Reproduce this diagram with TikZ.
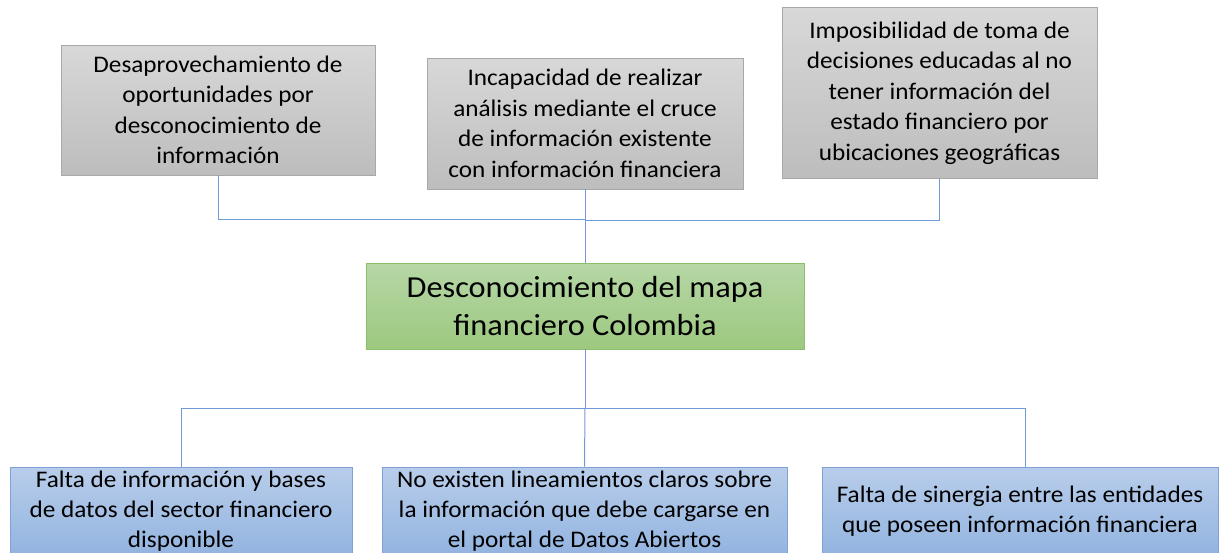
\documentclass[tikz,border=0pt]{standalone}
\usepackage{fontspec}
\setmainfont{Carlito}[FakeStretch=1.06]
\definecolor{grayTop}{HTML}{D8D8D8}
\definecolor{grayBot}{HTML}{BDBDBD}
\definecolor{grayEdge}{HTML}{A8A8A8}
\definecolor{greenTop}{HTML}{B6D7A6}
\definecolor{greenBot}{HTML}{9CC87F}
\definecolor{greenEdge}{HTML}{8CBE6C}
\definecolor{blueTop}{HTML}{B8CDEA}
\definecolor{blueBot}{HTML}{93B4E0}
\definecolor{blueEdge}{HTML}{7EA2D6}
\definecolor{linkCol}{HTML}{7099DA}
\tikzset{
  box/.style={rectangle, inner sep=0pt, align=center, text=black, line width=0.8pt},
  graybox/.style={box, top color=grayTop, bottom color=grayBot, draw=grayEdge, font=\fontsize{23.8}{30.5}\selectfont},
  greenbox/.style={box, top color=greenTop, bottom color=greenBot, draw=greenEdge, font=\fontsize{30.5}{37.5}\selectfont},
  bluebox/.style={box, top color=blueTop, bottom color=blueBot, draw=blueEdge, font=\fontsize{23.8}{30}\selectfont},
  link/.style={draw=linkCol, line width=1pt}
}
\begin{document}
\begin{tikzpicture}[x=1pt,y=-1pt]
\useasboundingbox (0,0) rectangle (1229,552);
\clip (0,0) rectangle (1229,552);
% top effect boxes
\node[graybox, minimum width=314pt, minimum height=130pt] (a) at (218,110)
  {Desaprovechamiento de\\oportunidades por\\desconocimiento de\\información};
\node[graybox, minimum width=316pt, minimum height=131pt] (b) at (585,123.5)
  {Incapacidad de realizar\\análisis mediante el cruce\\de información existente\\con información financiera};
\node[graybox, minimum width=315pt, minimum height=171pt] (c) at (939.5,93)
  {Imposibilidad de toma de\\decisiones educadas al no\\tener información del\\estado financiero por\\ubicaciones geográficas};
% central problem
\node[greenbox, minimum width=438pt, minimum height=86pt] (g) at (585,306)
  {Desconocimiento del mapa\\financiero Colombia};
% bottom cause boxes
\node[bluebox, minimum width=342pt, minimum height=88pt] (d) at (181,511)
  {Falta de información y bases\\de datos del sector financiero\\disponible};
\node[bluebox, minimum width=405pt, minimum height=88pt] (e) at (584.5,511)
  {No existen lineamientos claros sobre\\la información que debe cargarse en\\el portal de Datos Abiertos};
\node[bluebox, minimum width=396pt, minimum height=88pt] (f) at (1020,511)
  {Falta de sinergia entre las entidades\\que poseen información financiera};
% junctions
\coordinate (jt) at (585,219);
\coordinate (jc) at (585,220.5);
\coordinate (jb) at (585,408);
\coordinate (fr) at (1025,467);
% connectors top
\draw[link] (a.south) |- (jt);
\draw[link] (c.south) |- (jc);
\draw[link] (b.south) -- (g.north);
% connectors bottom
\draw[link] (g.south) -- (jb);
\draw[link] (d.north) |- (jb);
\draw[link] (fr) |- (jb);
\draw[link] (jb) -- (e.north);
\end{tikzpicture}
\end{document}
